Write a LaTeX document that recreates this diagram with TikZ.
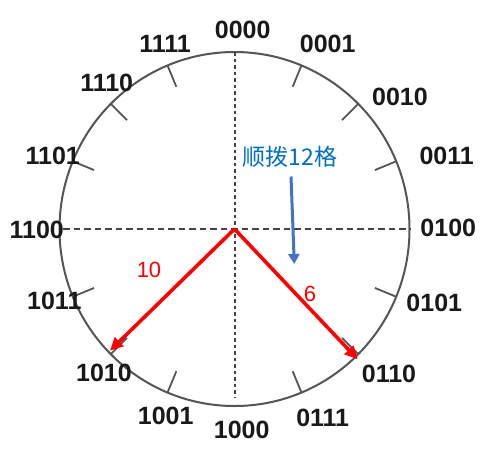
\documentclass[tikz,border=0pt]{standalone}
\usepackage{fontspec}
\setmainfont{Liberation Sans}
\newfontfamily\cjk{Noto Sans CJK SC}
\usetikzlibrary{arrows.meta}
\definecolor{rimgray}{RGB}{85,85,85}
\definecolor{cnblue}{RGB}{0,112,192}
\definecolor{arrblue}{RGB}{68,114,196}
\begin{document}
\begin{tikzpicture}[x=1pt,y=-1pt,
  rim/.style={draw=rimgray,line width=2pt},
  tick/.style={draw=rimgray,line width=1.8pt},
  axis/.style={draw=rimgray!80!black,line width=2pt,dash pattern=on 6.5pt off 4pt},
  vaxis/.style={draw=rimgray!80!black,line width=2pt,dash pattern=on 3.5pt off 3pt},
  code/.style={font=\fontsize{25}{25}\selectfont\bfseries,text=black!90,inner sep=0pt},
  redarrow/.style={draw=red,line width=3.6pt,-{Triangle[length=13pt,width=12pt]}},
  bluearrow/.style={draw=arrblue,line width=3pt,-{Triangle[length=10pt,width=11pt]}},
  num/.style={font=\fontsize{22}{22}\selectfont,text=red,inner sep=0pt}]
\useasboundingbox (0,0) rectangle (487,451);
\fill[white] (0,0) rectangle (487,451);
\coordinate (o) at (234.5,229);
% circle
\draw[rim] (o) ellipse [x radius=175pt, y radius=177pt];
% ticks
\foreach \i in {1,2,3,5,6,7,9,10,11,13,14,15}{
  \draw[tick] ({234.5+175*sin(\i*22.5)},{229-177*cos(\i*22.5)}) -- ({234.5+152*sin(\i*22.5)},{229-154*cos(\i*22.5)});
}
% axes
\coordinate (vt) at (234.5,52);
\coordinate (vb) at (234.5,397);
\coordinate (hl) at (63,229);
\coordinate (hr) at (411,229);
\draw[vaxis] (vt) -- (vb);
\draw[axis] (hl) -- (hr);
% labels
\node[code] (l0000) at (242.7,30) {0000};
\node[code] (l0001) at (327.7,44.3) {0001};
\node[code] (l0010) at (400,97.3) {0010};
\node[code] (l0011) at (446.7,156) {0011};
\node[code] (l0100) at (448.3,228.3) {0100};
\node[code] (l0101) at (434.3,302.7) {0101};
\node[code] (l0110) at (389,374.3) {0110};
\node[code] (l0111) at (322.7,418.3) {0111};
\node[code] (l1000) at (241.7,430) {1000};
\node[code] (l1001) at (165.7,416) {1001};
\node[code] (l1010) at (104,373.3) {1010};
\node[code] (l1011) at (54.3,301) {1011};
\node[code] (l1100) at (36.7,230) {1100};
\node[code] (l1101) at (52.7,155.7) {1101};
\node[code] (l1110) at (106.7,83.3) {1110};
\node[code] (l1111) at (165,44.3) {1111};
% red arrows
\coordinate (e10) at (110,350.7);
\coordinate (e6) at (357.7,359.3);
\draw[redarrow] (o) -- (e10);
\draw[redarrow] (o) -- (e6);
\node[num] (n10) at (149,270) {10};
\node[num] (n6) at (310,294) {6};
% blue annotation
\node[inner sep=0pt,text=cnblue,font=\cjk\fontsize{23}{23}\selectfont] (turn) at (290,157) {顺拨12格};
\coordinate (bs) at (291,176.5);
\coordinate (be) at (294.3,264);
\draw[bluearrow] (bs) -- (be);
\end{tikzpicture}
\end{document}
